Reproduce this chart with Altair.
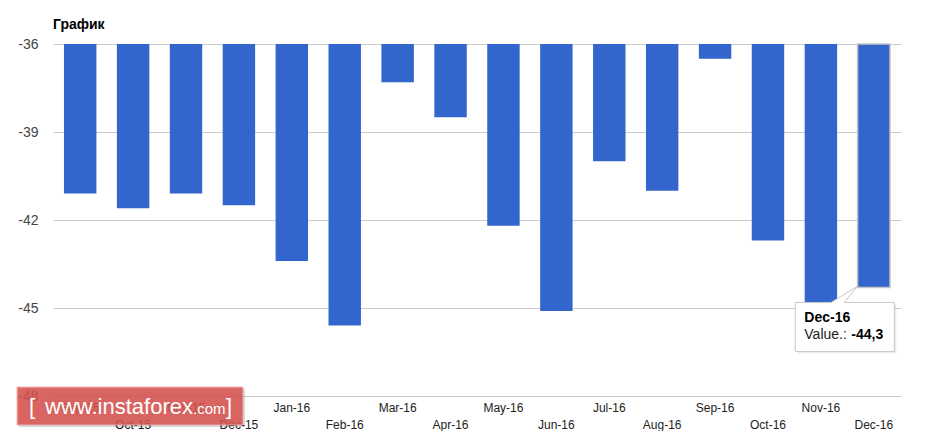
import altair as alt
import pandas as pd

months = ["Sep-15", "Oct-15", "Nov-15", "Dec-15", "Jan-16", "Feb-16", "Mar-16", "Apr-16",
          "May-16", "Jun-16", "Jul-16", "Aug-16", "Sep-16", "Oct-16", "Nov-16", "Dec-16"]
values = [-41.1, -41.6, -41.1, -41.5, -43.4, -45.6, -37.3, -38.5,
          -42.2, -45.1, -40.0, -41.0, -36.5, -42.7, -45.0, -44.3]
y_ticks = [-36, -39, -42, -45, -48]
title_text = "График"
tip_month = "Dec-16"
watermark = "www.instaforex"

W, H = 848, 352
FONT = "Arial, Liberation Sans, sans-serif"

df = pd.DataFrame({"month": months, "value": values,
                   "row": [i % 2 for i in range(len(months))]})

xscale = alt.Scale(domain=months, paddingInner=0.387, paddingOuter=0.2075)
yscale = alt.Scale(domain=[-48, -36], nice=False, zero=False)
y_axis = alt.Axis(values=y_ticks, title=None, domain=False, ticks=False,
                  labelPadding=15, labelFont=FONT, labelFontSize=14,
                  labelColor="#444444", gridColor="#cccccc", gridWidth=1,
                  labelExpr="'' + datum.value")

bars = alt.Chart(df).mark_bar(color="#3366cc", stroke="#c4c4c4").encode(
    x=alt.X("month:N", scale=xscale, axis=None, sort=months),
    y=alt.Y("value:Q", scale=yscale, axis=y_axis),
    y2=alt.datum(-36),
    strokeWidth=alt.condition(alt.datum.month == tip_month, alt.value(1.5), alt.value(0)),
)

xl_top = alt.Chart(df).transform_filter("datum.row == 0").mark_text(
    font=FONT, fontSize=12, color="#222222", baseline="alphabetic", align="center"
).encode(x=alt.X("month:N", scale=xscale, sort=months, axis=None),
         y=alt.value(H + 16), text="month:N")

xl_bot = alt.Chart(df).transform_filter("datum.row == 1").mark_text(
    font=FONT, fontSize=12, color="#222222", baseline="alphabetic", align="center"
).encode(x=alt.X("month:N", scale=xscale, sort=months, axis=None),
         y=alt.value(H + 33), text="month:N")

one = pd.DataFrame({"a": [0]})
title = alt.Chart(one).mark_text(
    text=title_text, font=FONT, fontSize=14, fontWeight="bold", color="#000000",
    align="left", baseline="alphabetic"
).encode(x=alt.value(0), y=alt.value(-15.5))

# tooltip anchored at the Dec-16 bar end
tip_df = df[df.month == tip_month].copy()
tip_df["label"] = "Value.: "
tip_df["vtxt"] = tip_df["value"].map(lambda v: str(v).replace(".", ","))

box_path = "M-1.57,0.3 H-0.856 L-0.33,-0.02 L-0.59,0.3 H0.41 V1.28 H-1.57 Z"
shadow_path = "M-1.53,0.34 H0.45 V1.32 H-1.53 Z"

tip_enc = dict(x=alt.X("month:N", scale=xscale, sort=months, axis=None),
               y=alt.Y("value:Q", scale=yscale, axis=y_axis))

tip_shadow = alt.Chart(tip_df).mark_point(
    shape=shadow_path, size=10000, filled=True, fill="#000000", fillOpacity=0.08,
    strokeWidth=0
).encode(**tip_enc)
tip_box = alt.Chart(tip_df).mark_point(
    shape=box_path, size=10000, filled=True, fill="#ffffff", opacity=1,
    stroke="#c8c8c8", strokeWidth=1
).encode(**tip_enc)
tip_t1 = alt.Chart(tip_df).mark_text(
    font=FONT, fontSize=14, fontWeight="bold", color="#000000", align="left",
    baseline="alphabetic", dx=-69.5, dy=34.5
).encode(text="month:N", **tip_enc)
tip_t2 = alt.Chart(tip_df).mark_text(
    font=FONT, fontSize=14, color="#222222", align="left",
    baseline="alphabetic", dx=-69.5, dy=52
).encode(text="label:N", **tip_enc)
tip_t3 = alt.Chart(tip_df).mark_text(
    font=FONT, fontSize=14, fontWeight="bold", color="#000000", align="left",
    baseline="alphabetic", dx=-22.5, dy=52
).encode(text="vtxt:N", **tip_enc)

# watermark
wm_shadow = alt.Chart(one).mark_rect(color="#000000", opacity=0.15).encode(
    x=alt.value(-34), x2=alt.value(192), y=alt.value(345), y2=alt.value(383))
wm_rect = alt.Chart(one).mark_rect(color="#d9534f", opacity=0.86,
                                   stroke="#eeaaaa", strokeWidth=1).encode(
    x=alt.value(-36), x2=alt.value(190), y=alt.value(343), y2=alt.value(381))
wm_l = alt.Chart(one).mark_text(text="[", font=FONT, fontSize=22, color="#ffffff",
                                align="left", baseline="alphabetic").encode(
    x=alt.value(-24), y=alt.value(370))
wm_main = alt.Chart(one).mark_text(text=watermark, font=FONT, fontSize=22, color="#ffffff",
                                   align="left", baseline="alphabetic").encode(
    x=alt.value(-8), y=alt.value(370))
wm_com = alt.Chart(one).mark_text(text=".com", font=FONT, fontSize=15, color="#ffffff",
                                  align="left", baseline="alphabetic").encode(
    x=alt.value(140), y=alt.value(370))
wm_r = alt.Chart(one).mark_text(text="]", font=FONT, fontSize=22, color="#ffffff",
                                align="left", baseline="alphabetic").encode(
    x=alt.value(173), y=alt.value(370))

chart = alt.layer(
    bars, xl_top, xl_bot, title, tip_shadow, tip_box, tip_t1, tip_t2, tip_t3,
    wm_shadow, wm_rect, wm_l, wm_main, wm_com, wm_r
).properties(
    width=W, height=H,
    background="#ffffff",
    autosize=alt.AutoSizeParams(type="none"),
    padding={"left": 45, "top": 36, "right": 15, "bottom": 35},
).configure_view(strokeWidth=0)

chart.save("out.html", embed_options={"renderer": "svg", "actions": False})
